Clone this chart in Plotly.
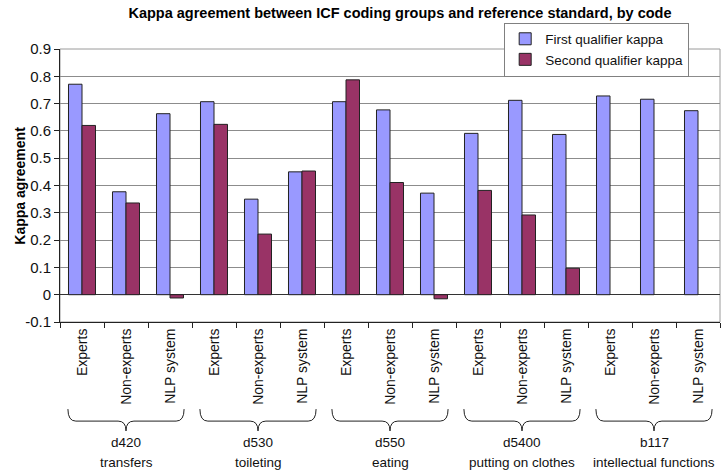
import plotly.graph_objects as go

# ICF codes and the three coding groups
codes = ["d420", "d530", "d550", "d5400", "b117"]
code_names = ["transfers", "toileting", "eating", "putting on clothes", "intellectual functions"]
coders = ["Experts", "Non-experts", "NLP system"]

first_kappa = [0.771, 0.377, 0.663,
               0.707, 0.350, 0.450,
               0.707, 0.677, 0.372,
               0.591, 0.712, 0.587,
               0.728, 0.716, 0.674]
second_kappa = [0.620, 0.336, -0.012,
                0.624, 0.222, 0.453,
                0.787, 0.411, -0.015,
                0.382, 0.292, 0.097,
                None, None, None]

y_ticks = [-0.1, 0, 0.1, 0.2, 0.3, 0.4, 0.5, 0.6, 0.7, 0.8, 0.9]
y_tick_text = ["-0.1", "0", "0.1", "0.2", "0.3", "0.4", "0.5", "0.6", "0.7", "0.8", "0.9"]

labels = [c for _ in codes for c in coders]
xpos = list(range(len(labels)))
font = "Liberation Sans, Arial, sans-serif"
outline = dict(color="#222222", width=1)

fig = go.Figure()
fig.add_trace(go.Bar(x=xpos, y=first_kappa, name="First qualifier kappa",
                     marker=dict(color="#9999FF", line=outline)))
fig.add_trace(go.Bar(x=xpos, y=second_kappa, name="Second qualifier kappa",
                     marker=dict(color="#993366", line=outline)))

# curly braces + two-line group labels under each code
n = len(coders)
y_end, y_mid, y_tip = -0.319, -0.363, -0.399
for g, (code, name) in enumerate(zip(codes, code_names)):
    xc = g * n + (n - 1) / 2
    x0, x1, d = xc - 1.32, xc + 1.32, 0.18
    path = (f"M {x0},{y_end} Q {x0},{y_mid} {x0 + d},{y_mid} L {xc - d},{y_mid} "
            f"Q {xc},{y_mid} {xc},{y_tip} Q {xc},{y_mid} {xc + d},{y_mid} "
            f"L {x1 - d},{y_mid} Q {x1},{y_mid} {x1},{y_end}")
    fig.add_shape(type="path", path=path, xref="x", yref="paper",
                  line=dict(color="#222222", width=1), layer="above")
    fig.add_annotation(x=xc, y=-0.443, xref="x", yref="paper", text=code,
                       yanchor="middle", showarrow=False,
                       font=dict(size=13.5, color="#111111"))
    fig.add_annotation(x=xc, y=-0.513, xref="x", yref="paper", text=name,
                       yanchor="middle", showarrow=False,
                       font=dict(size=13.5, color="#111111"))

# light frame on top/right of plot area
fig.add_shape(type="rect", xref="paper", yref="paper", x0=0, y0=0, x1=1, y1=1,
              line=dict(color="#9a9a9a", width=1), layer="below")

fig.add_annotation(x=-0.077, y=0.5, xref="paper", yref="paper", text="Kappa agreement",
                   textangle=-90, showarrow=False,
                   font=dict(size=14, color="#000000", weight="bold"))

fig.update_layout(
    width=722, height=470,
    margin=dict(l=60, r=2, t=49, b=148),
    paper_bgcolor="white", plot_bgcolor="white",
    font=dict(family=font, color="#111111"),
    title=dict(text="Kappa agreement between ICF coding groups and reference standard, by code",
               x=0.554, xanchor="center", y=0.972, yanchor="middle",
               font=dict(size=14.5, color="#000000", weight="bold")),
    barmode="group", bargap=0.386, bargroupgap=0,
    showlegend=True,
    legend=dict(x=0.673, y=1.097, xanchor="left", yanchor="top",
                bgcolor="white", bordercolor="#808080", borderwidth=1,
                font=dict(size=13.5, color="#111111")),
    xaxis=dict(range=[-0.5, len(labels) - 0.5], tickvals=xpos, ticktext=labels,
               tickangle=-90, ticks="", showgrid=False, zeroline=False,
               showline=True, linecolor="#222222", linewidth=1, automargin=False,
               tickfont=dict(size=14, color="#111111"),
               minor=dict(tickvals=[i - 0.5 for i in range(len(labels) + 1)],
                          ticks="outside", ticklen=5, tickcolor="#222222")),
    yaxis=dict(range=[-0.1, 0.9], tickvals=y_ticks, ticktext=y_tick_text,
               ticks="outside", ticklen=5, tickcolor="#222222",
               showline=True, linecolor="#222222", linewidth=1, automargin=False,
               showgrid=True, gridcolor="#8c8c8c", gridwidth=1,
               zeroline=True, zerolinecolor="#333333", zerolinewidth=1,
               tickfont=dict(size=15, color="#111111")),
)

fig.write_html("out.html", config={"displayModeBar": False},
               post_script="document.body.style.margin='0';")
